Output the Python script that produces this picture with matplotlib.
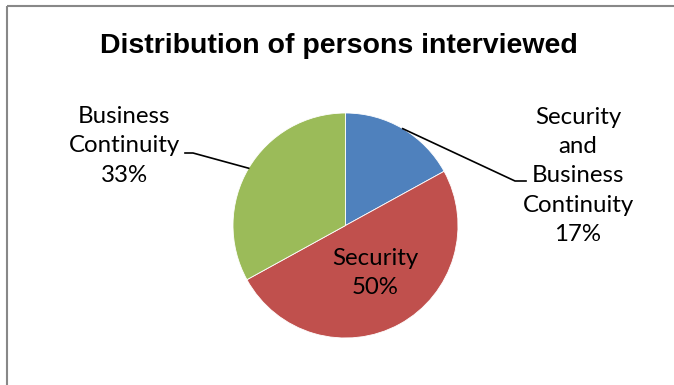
import numpy as np
import matplotlib
matplotlib.use('Agg')
import matplotlib.pyplot as plt

# data
labels = ['Security and Business Continuity', 'Security', 'Business Continuity']
values = [17, 50, 33]
colors = ['#4F81BD', '#C0504D', '#9BBB59']

W, H = 674, 385
fig = plt.figure(figsize=(W / 100, H / 100), dpi=100)
ax = fig.add_axes([0, 0, 1, 1])

# pixel layout (y measured from the top in the picture)
cx, cy, r = 345.5, H - 225.5, 112.5
wedges, _ = ax.pie(values, colors=colors, startangle=90, counterclock=False,
                   center=(cx, cy), radius=r, frame=True,
                   wedgeprops=dict(linewidth=0.6, edgecolor='white'))
ax.set_xlim(0, W)
ax.set_ylim(0, H)
ax.set_aspect('equal')
ax.axis('off')

lab_font = dict(family=['Lato', 'DejaVu Sans'], fontsize=17.3, ha='center', va='center',
                linespacing=1.48, color='black')

pct = [f'{v}%' for v in values]
ax.text(578, H - 176, 'Security\nand\nBusiness\nContinuity\n' + pct[0], **lab_font)
ax.text(375, H - 273, 'Security\n' + pct[1], **lab_font)
ax.text(124, H - 146, 'Business\nContinuity\n' + pct[2], **lab_font)

def edge_point(w):
    a = np.deg2rad((w.theta1 + w.theta2) / 2)
    return cx + r * np.cos(a), cy + r * np.sin(a)

# leader lines
x0, y0 = edge_point(wedges[0])
ax.plot([x0, 515, 526], [y0, H - 181, H - 181], color='black', lw=1.2)
x2, y2 = edge_point(wedges[2])
ax.plot([x2, 193, 185], [y2, H - 153, H - 153], color='black', lw=1.2)

ax.text(339, H - 46, 'Distribution of persons interviewed', ha='center', va='center',
        fontsize=20.5, fontweight='bold', family='Liberation Sans')

# chart border (only top and left visible)
ax.plot([7, W + 5], [H - 6, H - 6], color='#888888', lw=1.5, solid_capstyle='butt')
ax.plot([7, 7], [H - 6, -5], color='#888888', lw=1.5, solid_capstyle='butt')

fig.savefig('out.png', dpi=100)
